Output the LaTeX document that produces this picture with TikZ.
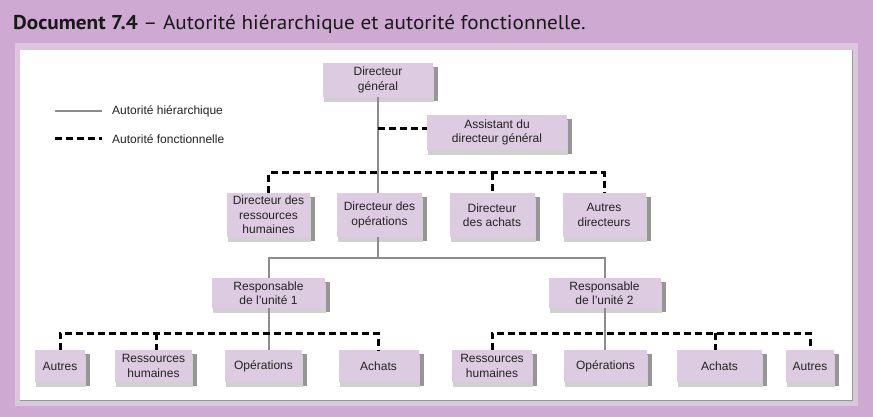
\documentclass[tikz,border=0pt]{standalone}
\usepackage{fontspec}
\setmainfont{Liberation Sans}
\newfontfamily\titlefont[FakeStretch=1.06]{PT Sans}
\usetikzlibrary{shadows}
\definecolor{bgpurple}{RGB}{206,169,210}
\definecolor{halo}{RGB}{219,198,222}
\definecolor{boxfill}{RGB}{221,203,225}
\definecolor{hline}{RGB}{140,140,140}
\definecolor{shdark}{RGB}{150,150,150}
\definecolor{shlight}{RGB}{208,208,208}
\definecolor{titletext}{RGB}{25,25,25}
\definecolor{boxtext}{RGB}{35,35,35}
\begin{document}
\begin{tikzpicture}[x=1pt,y=-1pt,
  orgbox/.style={fill=boxfill, inner sep=0pt, align=center,
    font=\fontsize{12}{14.5}\selectfont, text=boxtext,
    general shadow={fill=shdark, shadow xshift=5pt, shadow yshift=-4pt},
    general shadow={fill=shlight, shadow xshift=1pt, shadow yshift=-5pt}},
  soll/.style={draw=hline, line width=2pt},
  dashl/.style={draw=black, line width=3pt, dash pattern=on 7pt off 4pt},
  legtext/.style={anchor=west, inner sep=0pt, font=\fontsize{12}{14}\selectfont, text=boxtext}]
% background
\fill[bgpurple] (0,0) rectangle (873,417);
\useasboundingbox (0,0) rectangle (873,417);
\fill[halo] (15,43) rectangle (858,406);
\fill[white] (20,50) rectangle (852,400);
\draw[shdark, line width=1pt] (852,50) -- (852,400) -- (20,400);
% title
\node[anchor=base west, inner sep=0pt, font=\titlefont\fontsize{20}{24}\selectfont, text=titletext] (title) at (13,30)
  {\textbf{Document 7.4} – Autorité hiérarchique et autorité fonctionnelle.};
% legend
\node[legtext] (leg1) at (112,111) {Autorité hiérarchique};
\node[legtext] (leg2) at (112,139) {Autorité fonctionnelle};
\coordinate (l1) at (55,111);
\coordinate (l2) at (55,139);
\draw[soll] (l1) -- ([xshift=-10pt]leg1.west);
\draw[dashl] (l2) -- ([xshift=-10pt]leg2.west);
% boxes
\node[orgbox, minimum width=110pt, minimum height=34pt] (DG) at (378,80) {Directeur\\général};
\node[orgbox, minimum width=140pt, minimum height=35pt] (Asst) at (497,132.5) {Assistant du\\directeur général};
\node[orgbox, minimum width=83pt, minimum height=44pt] (RHD) at (268.5,215) {Directeur des\\ressources\\humaines};
\node[orgbox, minimum width=85pt, minimum height=44pt] (OpsD) at (379.5,215) {Directeur des\\opérations};
\node[orgbox, minimum width=85pt, minimum height=44pt] (AchD) at (492,215) {Directeur\\des achats};
\node[orgbox, minimum width=83pt, minimum height=44pt] (AutD) at (604,215) {Autres\\directeurs};
\node[orgbox, minimum width=113pt, minimum height=30pt] (Resp1) at (268.5,293) {Responsable\\de l’unité 1};
\node[orgbox, minimum width=112pt, minimum height=30pt] (Resp2) at (604.5,293) {Responsable\\de l’unité 2};
\node[orgbox, minimum width=50pt, minimum height=32pt] (AutL) at (60,366) {Autres};
\node[orgbox, minimum width=77pt, minimum height=32pt] (RHL) at (153.5,366) {Ressources\\humaines};
\node[orgbox, minimum width=77pt, minimum height=32pt] (OpsL) at (263.5,366) {Opérations};
\node[orgbox, minimum width=80pt, minimum height=32pt] (AchL) at (378.5,366) {Achats};
\node[orgbox, minimum width=80pt, minimum height=32pt] (RHR) at (492,366) {Ressources\\humaines};
\node[orgbox, minimum width=83pt, minimum height=32pt] (OpsR) at (605.5,366) {Opérations};
\node[orgbox, minimum width=85pt, minimum height=32pt] (AchR) at (719.5,366) {Achats};
\node[orgbox, minimum width=48pt, minimum height=32pt] (AutR) at (810,366) {Autres};
% hierarchical lines
\coordinate (s1) at (0,258);
\draw[soll] (DG.south) -- (DG.south |- OpsD.north);
\coordinate (opsb) at (378,237);
\draw[soll] (opsb) -- (opsb |- s1);
\draw[soll] (Resp1.north) -- (Resp1.north |- s1) -- (Resp2.north |- s1) -- (Resp2.north);
\draw[soll] (Resp1.south) -- (Resp1.south |- OpsL.north);
\draw[soll] (Resp2.south) -- (Resp2.south |- OpsR.north);
% functional lines
\coordinate (a1) at (378,129);
\draw[dashl] (a1) -- (a1 -| Asst.west);
\coordinate (m1) at (0,173);
\draw[dashl] (RHD.north) -- (RHD.north |- m1) -- (AutD.north |- m1) -- (AutD.north);
\draw[dashl] (AchD.north |- m1) -- (AchD.north);
\coordinate (bl) at (0,333);
\coordinate (dRHL) at (156,350);
\coordinate (dAchR) at (715,350);
\draw[dashl] (AutL.north) -- (AutL.north |- bl) -- (AchL.north |- bl) -- (AchL.north);
\draw[dashl] (dRHL |- bl) -- (dRHL);
\draw[dashl] (RHR.north) -- (RHR.north |- bl) -- (AutR.north |- bl) -- (AutR.north);
\draw[dashl] (dAchR |- bl) -- (dAchR);
\end{tikzpicture}
\end{document}
